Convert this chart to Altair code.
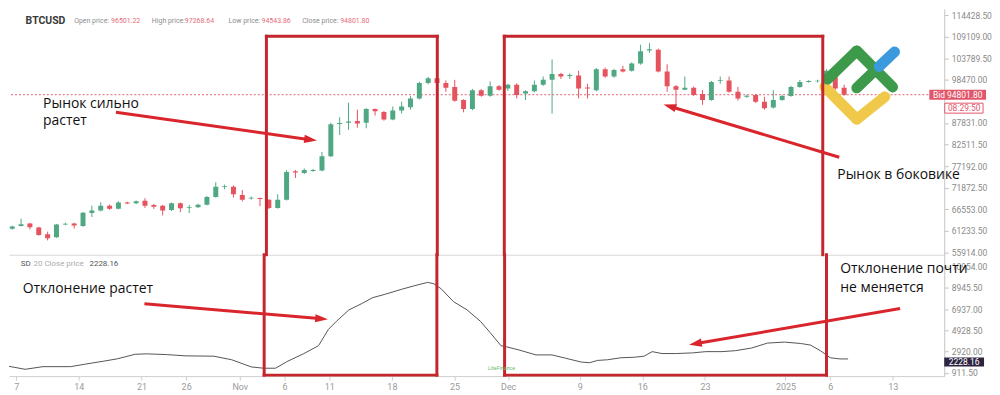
import math
import altair as alt
import pandas as pd

# ------------------------------------------------------------------ data
symbol = "BTCUSD"
# daily candles, day 0 = 2024-10-06 ... day 94 = 2025-01-08
opens = [61700, 62400, 63000, 62050, 60370, 59650, 62750, 63000, 62400, 65600,
         66220, 67400, 66650, 68200, 68000, 68620, 67590, 67420, 66380, 67990,
         66900, 67040, 67660, 69590, 72100, 72090, 70070, 69200, 69300, 68860,
         66870, 68860, 75900, 75460, 76000, 76090, 79630, 87600, 87900, 88290,
         87880, 91250, 90530, 88700, 90940, 91730, 93900, 97680, 98880, 97680,
         96710, 93510, 91250, 95920, 94550, 96880, 96310, 97270, 95100, 95680,
         97270, 98470, 99910, 99450, 99530, 96600, 95920, 101120, 99290, 101120,
         100730, 102490, 105700, 105930, 100560, 96880, 96060, 96550, 94960, 93510,
         98200, 98320, 95510, 94300, 94720, 93100, 91660, 93510, 94480, 96710,
         97950, 98100, 97920, 100200, 96501.22]
highs = [62500, 64200, 63180, 62200, 61000, 62900, 63200, 63200, 65900, 67420,
         68240, 67700, 68500, 68400, 68700, 69270, 67830, 67600, 68200, 68200,
         67590, 67900, 69800, 73200, 72640, 72400, 71270, 69700, 69400, 69000,
         70240, 76200, 76250, 76600, 76500, 80660, 87900, 89250, 92860, 91100,
         91500, 91400, 90800, 91900, 93100, 94480, 98000, 99200, 99100, 98330,
         98470, 93700, 96200, 96200, 98080, 97200, 97500, 97600, 95920, 98320,
         99300, 103520, 100200, 100080, 100730, 97510, 101400, 101500, 101200, 101940,
         102800, 107130, 107540, 106200, 102330, 97200, 99290, 96800, 95920, 98200,
         99290, 99290, 96710, 94800, 95000, 94300, 95920, 94800, 97000, 98470,
         98400, 98500, 101120, 100500, 97268.64]
lows = [61500, 62300, 61570, 60000, 58850, 59500, 62600, 61800, 62200, 64630,
        66000, 66400, 66500, 67800, 67800, 66870, 66630, 65010, 66100, 65830,
        65590, 66900, 67500, 69400, 71440, 69440, 68480, 68900, 67300, 66600,
        66700, 68700, 74250, 75200, 75800, 75900, 79400, 84840, 86120, 86670,
        86530, 89660, 88400, 88500, 90140, 91100, 93600, 97400, 97400, 95510,
        93100, 90460, 91000, 94300, 94300, 95800, 95750, 93900, 93510, 95400,
        97000, 90140, 98710, 98710, 93900, 93900, 95600, 99000, 99000, 100300,
        100500, 102200, 105140, 100300, 95510, 91900, 95920, 94500, 92310, 93300,
        97510, 95300, 93340, 94000, 92800, 91100, 91400, 93300, 94300, 96500,
        97800, 97800, 97600, 96000, 94543.86]
closes = [62300, 62850, 62100, 60200, 59400, 62770, 62950, 62500, 65700, 66200,
          67400, 66650, 68200, 67950, 68480, 67420, 67180, 66220, 67990, 66800,
          67100, 67660, 69590, 72090, 72300, 70240, 68860, 69400, 69050, 66870,
          68860, 75700, 75600, 76250, 76200, 79630, 87490, 87800, 88200, 87730,
          91250, 90700, 88700, 90940, 91900, 93900, 97680, 98880, 97680, 96550,
          93340, 91250, 95920, 94550, 96880, 96060, 97270, 94720, 95680, 97270,
          98470, 99910, 99290, 99650, 96310, 96350, 101120, 99290, 100880, 100560,
          102490, 105540, 106000, 100560, 96880, 96060, 96550, 94720, 93510, 97920,
          98400, 95510, 93900, 94550, 93100, 91490, 93510, 94480, 96710, 97920,
          98200, 98250, 100730, 96310, 94801.80]

# SD(20) of close
sd_day = [0.2, 2.0, 4.0, 7.1, 8.6, 10.8, 12.3, 14.3, 15.6, 17.8,
          20.0, 23.1, 25.1, 27.3, 28.7, 30.0, 31.3, 33.1, 34.8, 35.9,
          36.8, 38.2, 39.7, 40.8, 42.3, 44.1, 45.5, 47.0, 47.7, 48.5,
          49.9, 51.4, 52.9, 54.0, 55.2, 55.8, 57.2, 59.1, 60.9, 62.4,
          64.2, 65.1, 66.0, 67.1, 68.6, 70.1, 71.2, 72.1, 73.2, 74.8,
          76.6, 78.1, 79.9, 81.4, 83.2, 85.0, 86.9, 88.7, 89.8, 90.9,
          92.0, 93.1, 94.0]
sd_val = [1530, 1250, 1500, 1500, 1720, 2020, 2240, 2670, 2710, 2640,
          2520, 2490, 2150, 1470, 1350, 1350, 1990, 2710, 3480, 5020,
          5790, 6870, 7490, 8010, 8360, 8820, 9150, 9470, 9340, 8870,
          7640, 6870, 5790, 4710, 3480, 3380, 3080, 2610, 2610, 2300,
          1930, 1870, 2090, 2150, 2340, 2390, 2490, 2920, 2740, 2740,
          2800, 2920, 2920, 3010, 3260, 3730, 3820, 3690, 3540, 3010,
          2340, 2230, 2228.16]

tick_days = [1, 8, 15, 20, 26, 31, 36, 43, 50, 56, 64, 71, 78, 87, 92, 99]
tick_labels = ["7", "14", "21", "26", "Nov", "6", "11", "18", "25", "Dec",
               "9", "16", "23", "2025", "6", "13"]
price_ticks = [55914.0, 61233.5, 66553.0, 71872.5, 77192.0, 82511.5, 87831.0,
               98470.0, 103789.5, 109109.0, 114428.5]
sd_ticks = [911.5, 2920.0, 4928.5, 6937.0, 8945.5, 10954.0]

last_open, last_high, last_low, last_close = opens[-1], highs[-1], lows[-1], closes[-1]
sd_last = sd_val[-1]
bid_time = "08:29:50"

txt_top = ["Рынок сильно", "растет", "Рынок в боковике"]
txt_bot = ["Отклонение растет", "Отклонение почти", "не меняется"]

# ------------------------------------------------------------------ layout helpers
GREEN = "#4fa882"
RED = "#e5535f"
BOX = "#c3262d"
ARROW = "#d9252b"
VALC = "#e66b7a"

W, H1, H2 = 940, 247, 122
SX, SY1, SY2 = W / 953.0, H1 / 252.0, H2 / 124.0


def rx(px):  # reference pixel column -> day index
    return (px + 1.8) / 9.115


def rp(py):  # reference pixel row -> price
    return 115969.0 - 240.7 * py


def rs(py):  # reference pixel row -> SD value
    return 2920.0 - (py - 351.0) * 92.6


x_scale = alt.Scale(domain=[rx(0), rx(953)], nice=False, zero=False)
p_scale = alt.Scale(domain=[rp(252), rp(0)], nice=False, zero=False)
s_scale = alt.Scale(domain=[rs(376), rs(252)], nice=False, zero=False)

lab_expr = "[" + ",".join("'%s'" % t for t in tick_labels) + "][indexof([" + \
    ",".join(str(d) for d in tick_days) + "], datum.value)]"

top_x_axis = alt.Axis(labels=False, ticks=False, grid=False, title=None,
                      domainColor="#d6d6d6")
bot_x_axis = alt.Axis(values=tick_days, labelExpr=lab_expr, grid=False, title=None,
                      domainColor="#cfcfcf", tickColor="#cfcfcf", tickSize=4,
                      labelColor="#9a9a9a", labelFontSize=9, labelFont="Roboto",
                      labelPadding=2, labelFlush=False)
p_axis = alt.Axis(orient="right", values=price_ticks, format=".2f", grid=False,
                  title=None, domainColor="#c4c4c4", tickColor="#c4c4c4", tickSize=4,
                  labelColor="#8a8a8a", labelFontSize=8.5, labelFont="Roboto",
                  labelPadding=3)
s_axis = alt.Axis(orient="right", values=sd_ticks, format=".2f", grid=False,
                  title=None, domainColor="#c4c4c4", tickColor="#c4c4c4", tickSize=4,
                  labelColor="#8a8a8a", labelFontSize=8.5, labelFont="Roboto",
                  labelPadding=3)


def TX(f):
    return alt.X(f, type="quantitative", scale=x_scale, axis=top_x_axis)


def TY(f):
    return alt.Y(f, type="quantitative", scale=p_scale, axis=p_axis)


def BX(f):
    return alt.X(f, type="quantitative", scale=x_scale, axis=bot_x_axis)


def BY(f):
    return alt.Y(f, type="quantitative", scale=s_scale, axis=s_axis)


def segs(rows, yc):
    return pd.DataFrame({"x": [rx(r[0]) for r in rows], "y": [yc(r[1]) for r in rows],
                         "x2": [rx(r[2]) for r in rows], "y2": [yc(r[3]) for r in rows]})


def arrows(rows, yc, sy):
    sh, hd = [], []
    for (x1, y1, x2, y2) in rows:
        L = math.hypot(x2 - x1, y2 - y1)
        ux, uy = (x2 - x1) / L, (y2 - y1) / L
        sh.append((x1, y1, x2 - 9 * ux, y2 - 9 * uy))
        ang = math.degrees(math.atan2((y2 - y1) * sy, (x2 - x1) * SX)) % 360
        hd.append({"x": rx(x2), "y": yc(y2), "ang": ang})
    return segs(sh, yc), pd.DataFrame(hd)


HEAD = "M0,0L-1,-0.32L-1,0.32Z"
HEAD_SIZE = (2 * 13 * SX) ** 2

candles = pd.DataFrame({"day": list(range(len(opens))), "open": opens, "high": highs,
                        "low": lows, "close": closes})
up = alt.when("datum.close >= datum.open").then(alt.value(GREEN)).otherwise(alt.value(RED))

# ------------------------------------------------------------------ top panel
bid_df = pd.DataFrame({"v": [last_close], "t": ["Bid %.2f" % last_close], "tm": [bid_time]})

bid_line = alt.Chart(bid_df).mark_rule(color="#e0606e", strokeDash=[2, 2], strokeWidth=1).encode(y=TY("v"))
wicks = alt.Chart(candles).mark_rule(strokeWidth=1, clip=True).encode(
    x=TX("day"), y=TY("low"), y2="high", color=up)
bodies = alt.Chart(candles).mark_bar(size=5, clip=True).encode(
    x=TX("day"), y=TY("open"), y2="close", color=up)

logo_rows = [(835, 80, 868, 113, "#f0c94b"), (868, 113, 897, 90, "#f0c94b"),
             (838, 72, 868, 43, "#3e9a4b"), (868, 43, 905, 80, "#3e9a4b"),
             (868, 81, 889, 61, "#3e9a4b"), (891, 59, 907, 44, "#3b99dd")]
logo_df = segs([r[:4] for r in logo_rows], rp)
logo_df["c"] = [r[4] for r in logo_rows]
logo = alt.Chart(logo_df).mark_rule(strokeWidth=11 * SX, strokeCap="round").encode(
    x=TX("x"), y=TY("y"), x2="x2", y2="y2", color=alt.Color("c:N", scale=None))

BOXES = [(260, 436), (505, 833)]
BOX_TOP, BOX_BOTTOM = 28, 375
top_box_rows = []
for (a, b) in BOXES:
    top_box_rows += [(a, BOX_TOP, b, BOX_TOP), (a, BOX_TOP, a, 252), (b, BOX_TOP, b, 252)]
top_box = alt.Chart(segs(top_box_rows, rp)).mark_rule(
    color=BOX, strokeWidth=3, strokeCap="square").encode(x=TX("x"), y=TY("y"), x2="x2", y2="y2")

sh_t, hd_t = arrows([(105, 106, 312, 135), (850, 152, 669, 98)], rp, SY1)
shaft_t = alt.Chart(sh_t).mark_rule(color=ARROW, strokeWidth=3).encode(
    x=TX("x"), y=TY("y"), x2="x2", y2="y2")
head_t = alt.Chart(hd_t).mark_point(shape=HEAD, filled=True, opacity=1, size=HEAD_SIZE,
                                    color=ARROW, strokeWidth=0).encode(
    x=TX("x"), y=TY("y"), angle=alt.Angle("ang:Q", scale=None))

tt_df = pd.DataFrame({"t": txt_top, "x": [rx(30), rx(30), rx(848)],
                      "y": [rp(97), rp(115), rp(170)]})
top_text = alt.Chart(tt_df).mark_text(align="left", baseline="middle", font="Open Sans",
                                      fontSize=14, color="#111111").encode(
    x=TX("x"), y=TY("y"), text="t:N")

hdr_rows = [("Open price:", 62, "#8c8c8c"), ("%.2f" % last_open, 100, VALC),
            ("High price:", 142, "#8c8c8c"), ("%.2f" % last_high, 176, VALC),
            ("Low price:", 221, "#8c8c8c"), ("%.2f" % last_low, 255, VALC),
            ("Close price:", 297, "#8c8c8c"), ("%.2f" % last_close, 336, VALC)]
hdr_df = pd.DataFrame({"t": [r[0] for r in hdr_rows], "x": [rx(r[1]) for r in hdr_rows],
                       "y": [rp(12)] * len(hdr_rows), "c": [r[2] for r in hdr_rows]})
hdr = alt.Chart(hdr_df).mark_text(align="left", baseline="middle", font="Roboto",
                                  fontSize=7).encode(
    x=TX("x"), y=TY("y"), text="t:N", color=alt.Color("c:N", scale=None))
sym_df = pd.DataFrame({"t": [symbol], "x": [rx(12)], "y": [rp(12)]})
sym = alt.Chart(sym_df).mark_text(align="left", baseline="middle", font="Roboto",
                                  fontSize=10.5, fontWeight="bold", color="#3a3a3a").encode(
    x=TX("x"), y=TY("y"), text="t:N")

bid_rect = alt.Chart(bid_df).mark_rect(color="#e2566a", yOffset=-5, y2Offset=5).encode(
    x=alt.value(W - 15), x2=alt.value(W + 42), y=TY("v"), y2="v")
bid_txt = alt.Chart(bid_df).mark_text(color="white", fontSize=8.5, font="Roboto",
                                      align="center", baseline="middle").encode(
    x=alt.value(W + 13.5), y=TY("v"), text="t:N")
tm_rect = alt.Chart(bid_df).mark_rect(fill="white", stroke="#e2566a", strokeWidth=1,
                                      yOffset=8.5, y2Offset=18.5).encode(
    x=alt.value(W + 0.5), x2=alt.value(W + 39), y=TY("v"), y2="v")
tm_txt = alt.Chart(bid_df).mark_text(color="#e2566a", fontSize=8.5, font="Roboto",
                                     align="center", baseline="middle", dy=13.5).encode(
    x=alt.value(W + 20), y=TY("v"), text="tm:N")

top = alt.layer(bid_line, wicks, bodies, logo, top_box, shaft_t, head_t, top_text,
                hdr, sym, bid_rect, bid_txt, tm_rect, tm_txt).properties(width=W, height=H1)

# ------------------------------------------------------------------ bottom panel
sd_df = pd.DataFrame({"day": sd_day, "sd": sd_val})
sd_line = alt.Chart(sd_df).mark_line(color="#555555", strokeWidth=1, clip=True).encode(
    x=BX("day"), y=BY("sd"))

bot_box_rows = []
for (a, b) in BOXES:
    bot_box_rows += [(a, 252, a, BOX_BOTTOM), (b, 252, b, BOX_BOTTOM),
                     (a, BOX_BOTTOM, b, BOX_BOTTOM)]
bot_box = alt.Chart(segs(bot_box_rows, rs)).mark_rule(
    color=BOX, strokeWidth=3, strokeCap="square").encode(x=BX("x"), y=BY("y"), x2="x2", y2="y2")

sh_b, hd_b = arrows([(138, 302, 325, 318), (908, 307, 693, 344)], rs, SY2)
shaft_b = alt.Chart(sh_b).mark_rule(color=ARROW, strokeWidth=3).encode(
    x=BX("x"), y=BY("y"), x2="x2", y2="y2")
head_b = alt.Chart(hd_b).mark_point(shape=HEAD, filled=True, opacity=1, size=HEAD_SIZE,
                                    color=ARROW, strokeWidth=0).encode(
    x=BX("x"), y=BY("y"), angle=alt.Angle("ang:Q", scale=None))

bt_df = pd.DataFrame({"t": txt_bot, "x": [rx(14), rx(847), rx(847)],
                      "y": [rs(287), rs(267), rs(286)]})
bot_text = alt.Chart(bt_df).mark_text(align="left", baseline="middle", font="Open Sans",
                                      fontSize=14, color="#111111").encode(
    x=BX("x"), y=BY("y"), text="t:N")

sdh_rows = [("SD", 12, "#555555"), ("20 Close price", 25, "#ababab"),
            ("%.2f" % sd_last, 82, "#555555")]
sdh_df = pd.DataFrame({"t": [r[0] for r in sdh_rows], "x": [rx(r[1]) for r in sdh_rows],
                       "y": [rs(261)] * 3, "c": [r[2] for r in sdh_rows]})
sdh = alt.Chart(sdh_df).mark_text(align="left", baseline="middle", font="Roboto",
                                  fontSize=8).encode(
    x=BX("x"), y=BY("y"), text="t:N", color=alt.Color("c:N", scale=None))

wm_df = pd.DataFrame({"t": ["LiteFinance"], "x": [rx(488)], "y": [rs(368)]})
wm = alt.Chart(wm_df).mark_text(align="left", baseline="middle", font="Roboto", fontSize=5.5,
                                fontStyle="italic", color="#6dbb6d").encode(
    x=BX("x"), y=BY("y"), text="t:N")

sdb_df = pd.DataFrame({"v": [sd_last], "t": ["%.2f" % sd_last]})
sd_rect = alt.Chart(sdb_df).mark_rect(color="#2d2540", yOffset=-1.5, y2Offset=7.5).encode(
    x=alt.value(W), x2=alt.value(W + 40), y=BY("v"), y2="v")
sd_txt = alt.Chart(sdb_df).mark_text(color="white", fontSize=8.5, font="Roboto",
                                     align="center", baseline="middle", dy=3).encode(
    x=alt.value(W + 20), y=BY("v"), text="t:N")

bottom = alt.layer(sd_line, bot_box, shaft_b, head_b, bot_text, sdh, wm,
                   sd_rect, sd_txt).properties(width=W, height=H2)

chart = alt.vconcat(top, bottom, spacing=0, bounds="flush").properties(
    padding=0).configure_view(stroke=None)

chart.save("out.html", embed_options={"renderer": "svg", "actions": False})
